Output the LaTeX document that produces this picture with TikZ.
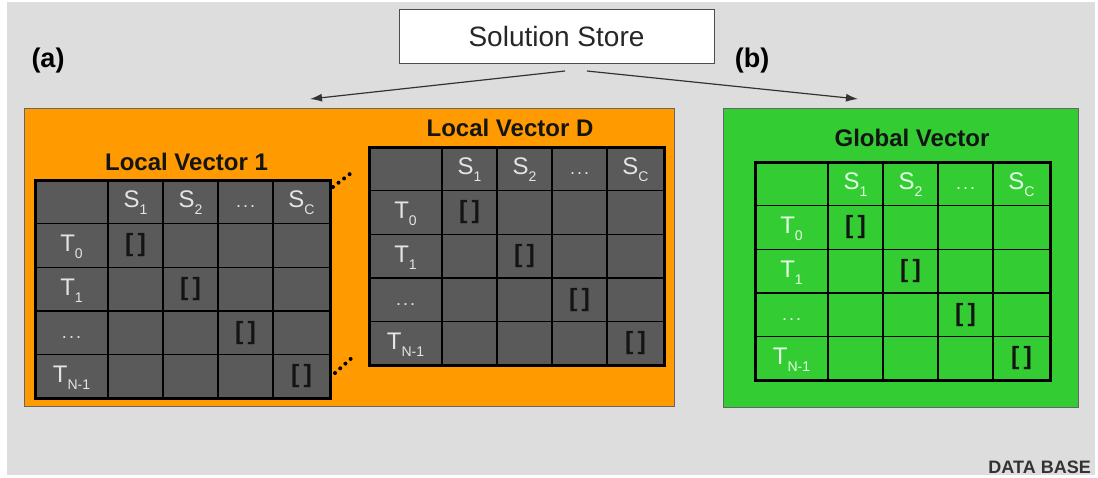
\documentclass[tikz,border=0pt]{standalone}
\usepackage{fontspec}
\setmainfont{Liberation Sans}
\usetikzlibrary{arrows.meta}
\definecolor{bg}{HTML}{DDDDDD}
\definecolor{orangebox}{HTML}{FF9A00}
\definecolor{greenbox}{HTML}{33CC33}
\definecolor{cellgray}{HTML}{5A5A5A}
\definecolor{celltext}{HTML}{E4E4E4}
\definecolor{gtext}{HTML}{E6FFE6}
\definecolor{dark}{HTML}{141414}
\newcommand\fs[1]{\fontsize{#1}{#1}\selectfont}
\newcommand\mysub[1]{\raisebox{-0.55ex}{\fs{14}#1}}
\newcommand\tridots{\fs{18}.\kern2pt.\kern2pt.}
\tikzset{
  panel/.style={draw=gray!80!black, line width=0.8pt},
  title/.style={font=\bfseries\fs{24}, text=dark, inner sep=0pt},
  celltxt/.style={font=\fs{24}, inner sep=0pt},
  brk/.style={font=\bfseries\fs{25}, text=dark, inner sep=0pt},
  gridline/.style={draw=black, line width=1.4pt},
  border/.style={draw=black, line width=3pt},
  arr/.style={draw=black!80, line width=1.2pt, -{Latex[length=12pt,width=8pt]}},
  dots/.style={draw=black, line width=4pt, line cap=round, dash pattern=on 0pt off 7pt}
}
% #1 name, #2 x0, #3 y0, #4 fill colour, #5 text colour
\newcommand\vtable[5]{%
  \begin{scope}[shift={(#2,#3)}]
    \node[fill=#4, minimum width=295pt, minimum height=218pt, inner sep=0pt, anchor=north west] (#1) at (0,0) {};
    \draw[gridline] (73,0) -- (73,218) (128,0) -- (128,218) (183,0) -- (183,218) (238,0) -- (238,218);
    \draw[gridline] (0,43.6) -- (295,43.6) (0,87.2) -- (295,87.2) (0,130.8) -- (295,130.8) (0,174.4) -- (295,174.4);
    \draw[border] (#1.north west) rectangle (#1.south east);
    \begin{scope}[every node/.append style={text=#5}]
      \node[celltxt] (#1s1) at (100.5,23) {S\mysub{1}};
      \node[celltxt] (#1s2) at (155.5,23) {S\mysub{2}};
      \node[celltxt] (#1sd) at (210.5,27) {\tridots};
      \node[celltxt] (#1sc) at (266.5,23) {S\mysub{C}};
      \node[celltxt] (#1t0) at (36.5,67) {T\mysub{0}};
      \node[celltxt] (#1t1) at (36.5,110.6) {T\mysub{1}};
      \node[celltxt] (#1tdd) at (36.5,158) {\tridots};
      \node[celltxt] (#1tn) at (36.5,197.8) {T\mysub{N-1}};
    \end{scope}
    \node[brk] (#1b1) at (100.5,65.4) {[\,]};
    \node[brk] (#1b2) at (155.5,109) {[\,]};
    \node[brk] (#1b3) at (210.5,152.6) {[\,]};
    \node[brk] (#1b4) at (266.5,196.2) {[\,]};
  \end{scope}}
\begin{document}
\begin{tikzpicture}[x=1pt,y=-1pt]
\useasboundingbox (0,0) rectangle (1098,477);
\fill[bg] (7,2) rectangle (1095,475);
% solution store
\node[draw=black!70, fill=white, line width=0.8pt, minimum width=315pt, minimum height=54pt, inner sep=0pt, font=\fs{28}, text=black!85] (ss) at (556.5,36) {Solution Store};
\node[font=\bfseries\fs{27}, inner sep=0pt] (la) at (48,61) {(a)};
\node[font=\bfseries\fs{27}, inner sep=0pt] (lb) at (752,61) {(b)};
% panels
\node[panel, fill=orangebox, minimum width=650pt, minimum height=298pt, inner sep=0pt, anchor=north west] (pa) at (24,108) {};
\node[panel, fill=greenbox, minimum width=355pt, minimum height=299pt, inner sep=0pt, anchor=north west] (pb) at (723,108) {};
% arrows
\coordinate (ssL) at (565,71);
\coordinate (ssR) at (587,71);
\coordinate (tipA) at (310,99);
\coordinate (tipB) at (858,99);
\draw[arr] (ssL) -- (tipA);
\draw[arr] (ssR) -- (tipB);
% titles
\node[title] (t1) at (186.5,162) {Local Vector 1};
\node[title] (tD) at (510,128) {Local Vector D};
\node[title] (tG) at (912,138) {Global Vector};
% tables
\vtable{lv}{35}{180}{cellgray}{celltext}
\vtable{ld}{369}{147}{cellgray}{celltext}
\vtable{gv}{755}{162}{greenbox}{gtext}
% dotted links
\coordinate (d1a) at (333,187);
\coordinate (d1b) at (355,170);
\coordinate (d2a) at (335,373);
\coordinate (d2b) at (355,355);
\draw[dots] (d1a) -- (d1b);
\draw[dots] (d2a) -- (d2b);
\node[font=\bfseries\fs{18}, text=black!80, inner sep=0pt, anchor=east] (db) at (1091,467) {DATA BASE};
\end{tikzpicture}
\end{document}
